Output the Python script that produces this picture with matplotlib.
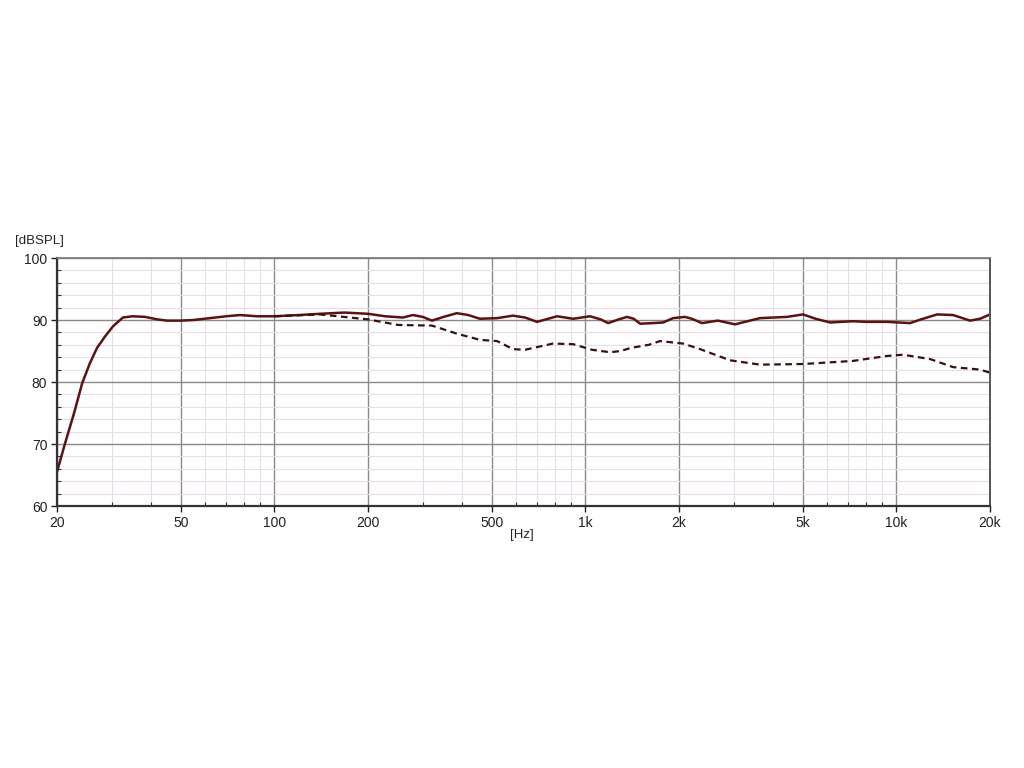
import matplotlib
matplotlib.use("Agg")
import matplotlib.pyplot as plt
from matplotlib.ticker import FixedLocator, NullFormatter

plt.rcParams['font.family'] = ['Liberation Sans', 'DejaVu Sans']

# Solid curve (on-axis response)
solid_freq = [20, 21.2, 22.7, 24.1, 25.5, 26.9, 28.5, 30.3, 32.6, 35, 38.4, 42, 45.2, 49.7,
              55, 62, 70, 77.5, 88, 100, 120, 140, 168, 200, 227, 259, 279, 300, 321, 350,
              386, 420, 458, 520, 585, 640, 699, 811, 913, 1035, 1120, 1183, 1280, 1362,
              1430, 1500, 1650, 1778, 1914, 2090, 2200, 2371, 2668, 3028, 3642, 4445, 5010,
              5500, 6125, 7250, 8000, 9330, 11070, 12000, 13520, 15220, 17260, 18580, 20000]
solid_db = [65.5, 70.0, 75.0, 79.8, 83.0, 85.5, 87.3, 89.0, 90.4, 90.6, 90.5, 90.1, 89.9, 89.9,
            90.0, 90.3, 90.6, 90.8, 90.6, 90.6, 90.8, 91.0, 91.2, 91.0, 90.6, 90.4, 90.8, 90.5, 89.9, 90.5,
            91.1, 90.8, 90.2, 90.3, 90.7, 90.4, 89.7, 90.6, 90.2, 90.6, 90.1, 89.5, 90.1, 90.5,
            90.2, 89.4, 89.5, 89.6, 90.3, 90.5, 90.2, 89.5, 89.9, 89.3, 90.3, 90.5, 90.9,
            90.2, 89.6, 89.8, 89.7, 89.7, 89.5, 90.1, 90.9, 90.8, 89.9, 90.2, 90.9]

# Dashed curve (off-axis response)
dash_freq = [100, 140, 200, 250, 321, 386, 458, 520, 585, 640, 787, 913, 1050, 1200, 1300,
             1400, 1600, 1738, 2061, 2338, 2918, 3642, 5010, 7250, 9330, 10500, 12830,
             15220, 18580, 20000]
dash_db = [90.6, 90.9, 90.1, 89.2, 89.1, 87.8, 86.8, 86.6, 85.3, 85.2, 86.2, 86.1, 85.2, 84.8, 85.0,
           85.5, 86.0, 86.6, 86.2, 85.3, 83.5, 82.8, 82.9, 83.4, 84.2, 84.4, 83.7,
           82.4, 82.0, 81.5]

x_major = [20, 50, 100, 200, 500, 1000, 2000, 5000, 10000, 20000]
x_labels = ['20', '50', '100', '200', '500', '1k', '2k', '5k', '10k', '20k']
x_minor = [30, 40, 60, 70, 80, 90, 300, 400, 600, 700, 800, 900,
           3000, 4000, 6000, 7000, 8000, 9000]
y_major = [60, 70, 80, 90, 100]

fig = plt.figure(figsize=(10.24, 7.68), dpi=100)
ax = fig.add_axes([57/1024, 1-506/768, (990-57)/1024, (506-258)/768])
ax.set_xscale('log')
ax.set_xlim(20, 20000)
ax.set_ylim(60, 100)

ax.xaxis.set_major_locator(FixedLocator(x_major))
ax.set_xticklabels(x_labels)
ax.xaxis.set_minor_locator(FixedLocator(x_minor))
ax.xaxis.set_minor_formatter(NullFormatter())
ax.yaxis.set_major_locator(FixedLocator(y_major))
ax.yaxis.set_minor_locator(FixedLocator([y for y in range(60, 101, 2) if y % 10 != 0]))

ax.grid(which='major', color='#8a8a8a', linewidth=1.0)
ax.grid(which='minor', color='#eadcea', linewidth=0.8)
ax.set_axisbelow(True)

ax.tick_params(which='major', direction='out', length=4, width=1, labelsize=10, colors='#222222', pad=3)
ax.tick_params(which='minor', direction='in', length=3, width=0.8, colors='#333333')

for s in ['left', 'bottom']:
    ax.spines[s].set_color('#333333')
    ax.spines[s].set_linewidth(1.6)
ax.spines['right'].set_color('#555555')
ax.spines['right'].set_linewidth(1.4)
ax.spines['top'].set_color('#777777')
ax.spines['top'].set_linewidth(1.2)

ax.plot(solid_freq, solid_db, color='#5a1212', linewidth=1.8, solid_joinstyle='round')
ax.plot(dash_freq, dash_db, color='#3a1010', linewidth=1.6, linestyle=(0, (3, 2)))

fig.text(15/1024, 1-241/768, '[dBSPL]', fontsize=9.5, color='#222222', va='center', ha='left')
fig.text(522/1024, 1-535/768, '[Hz]', fontsize=9.5, color='#222222', va='center', ha='center')

fig.savefig('out.png', dpi=100, facecolor='white')
